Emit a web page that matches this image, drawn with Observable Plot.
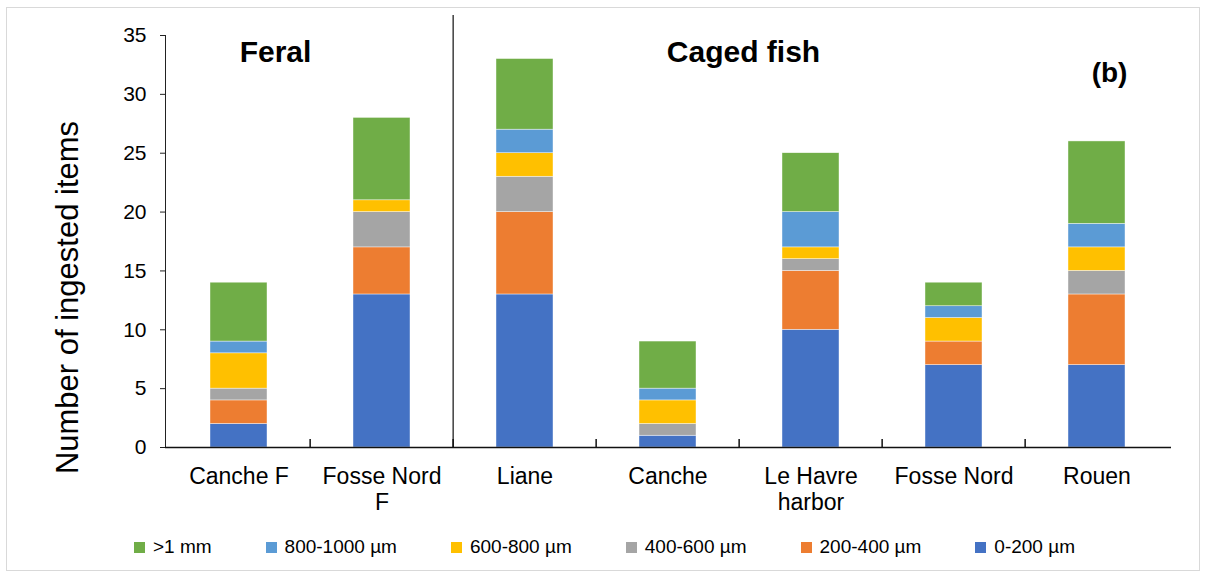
<!DOCTYPE html>
<html><head><meta charset="utf-8">
<script src="https://cdn.jsdelivr.net/npm/d3@7"></script>
<script src="https://cdn.jsdelivr.net/npm/@observablehq/plot@0.6"></script>
<style>
body{margin:0;background:#fff;font-family:"Liberation Sans",Arial,sans-serif;}
#wrap{position:relative;width:1207px;height:577px;overflow:hidden;background:#fff}
#border{position:absolute;left:6px;top:7px;width:1194px;height:564px;border:1px solid #d9d9d9;box-sizing:border-box}
#chart{position:absolute;left:0;top:0}
#legend{position:absolute;left:0;top:536px;width:1207px;display:flex;justify-content:center;gap:54px;font-size:19px;color:#000;padding-left:2px;box-sizing:border-box}
.item{display:flex;align-items:center;white-space:nowrap}
.sw{width:11px;height:11px;margin-right:8px}
</style></head><body>
<div id="wrap"><div id="border"></div><div id="chart"></div><div id="legend"></div></div>
<script>
const categories = ["Canche F","Fosse Nord\nF","Liane","Canche","Le Havre\nharbor","Fosse Nord","Rouen"];
const sizeClasses = ["0-200 µm","200-400 µm","400-600 µm","600-800 µm","800-1000 µm",">1 mm"];
const colors = ["#4472C4","#ED7D31","#A5A5A5","#FFC000","#5B9BD5","#70AD47"];
const s0_200    = [2,13,13,1,10,7,7];
const s200_400  = [2,4,7,0,5,2,6];
const s400_600  = [1,3,3,1,1,0,2];
const s600_800  = [3,1,2,2,1,2,2];
const s800_1000 = [1,0,2,1,3,1,2];
const s1mm      = [5,7,6,4,5,2,7];
const yTicks = [0,5,10,15,20,25,30,35];
const groupLabels = ["Feral","Caged fish"];
const panelLabel = "(b)";
const yTitle = "Number of ingested items";

const series = [s0_200,s200_400,s400_600,s600_800,s800_1000,s1mm];
const data = [];
series.forEach((vals, si) => vals.forEach((v, ci) => data.push({site: categories[ci], size: sizeClasses[si], count: v})));

const W = 1207, H = 520, ML = 165, MR = 36, MT = 35, MB = 73;
const step = (W - ML - MR) / categories.length;

const chart = Plot.plot({
  width: W, height: H,
  marginLeft: ML, marginRight: MR, marginTop: MT, marginBottom: MB,
  style: {fontFamily: "Liberation Sans, Arial, sans-serif", color: "#000", background: "transparent", overflow: "visible"},
  x: {domain: categories, paddingInner: 0.6, paddingOuter: 0.3, label: null},
  y: {domain: [0, 35], label: null},
  color: {domain: sizeClasses, range: colors},
  marks: [
    Plot.barY(data, {x: "site", y: "count", fill: "size", stroke: "white", strokeWidth: 0.6, strokeOpacity: 0.7}),
    Plot.frame({anchor: "left", stroke: "#222"}),
    Plot.ruleY([0], {stroke: "#111", strokeWidth: 1.6}),
    Plot.ruleX(categories.slice(1), {x: d => d, y1: 0, y2: 0, dx: -step / 2, insetTop: -8, stroke: "#111", strokeWidth: 1.5}),
    Plot.ruleX([categories[2]], {x: d => d, y1: 35, y2: 0, dx: -step / 2, insetTop: -20, stroke: "#111", strokeWidth: 1.2}),
    Plot.axisY({ticks: yTicks, tickSize: 5, tickPadding: 14, fontSize: 21, label: null, stroke: "#222"}),
    Plot.axisX({tickSize: 0, tickPadding: 18, fontSize: 23, lineHeight: 1.13, label: null}),
    Plot.text([groupLabels[0]], {frameAnchor: "top-left", lineAnchor: "middle", dx: 110, dy: 17, text: d => d, fontSize: 30, fontWeight: "bold", textAnchor: "middle"}),
    Plot.text([groupLabels[1]], {frameAnchor: "top-left", lineAnchor: "middle", dx: 578, dy: 17, text: d => d, fontSize: 30, fontWeight: "bold", textAnchor: "middle"}),
    Plot.text([panelLabel], {frameAnchor: "top-left", lineAnchor: "middle", dx: 944, dy: 38, text: d => d, fontSize: 28, fontWeight: "bold", textAnchor: "middle"}),
    Plot.text([yTitle], {frameAnchor: "left", text: d => d, rotate: -90, dx: -97, dy: 56, fontSize: 31, textAnchor: "middle"})
  ]
});
document.getElementById("chart").appendChild(chart);

const legend = document.getElementById("legend");
sizeClasses.map((s, i) => ({s, c: colors[i]})).reverse().forEach(({s, c}) => {
  const it = document.createElement("div");
  it.className = "item";
  it.innerHTML = `<span class="sw" style="background:${c}"></span><span>${s}</span>`;
  legend.appendChild(it);
});
</script>
</body></html>
